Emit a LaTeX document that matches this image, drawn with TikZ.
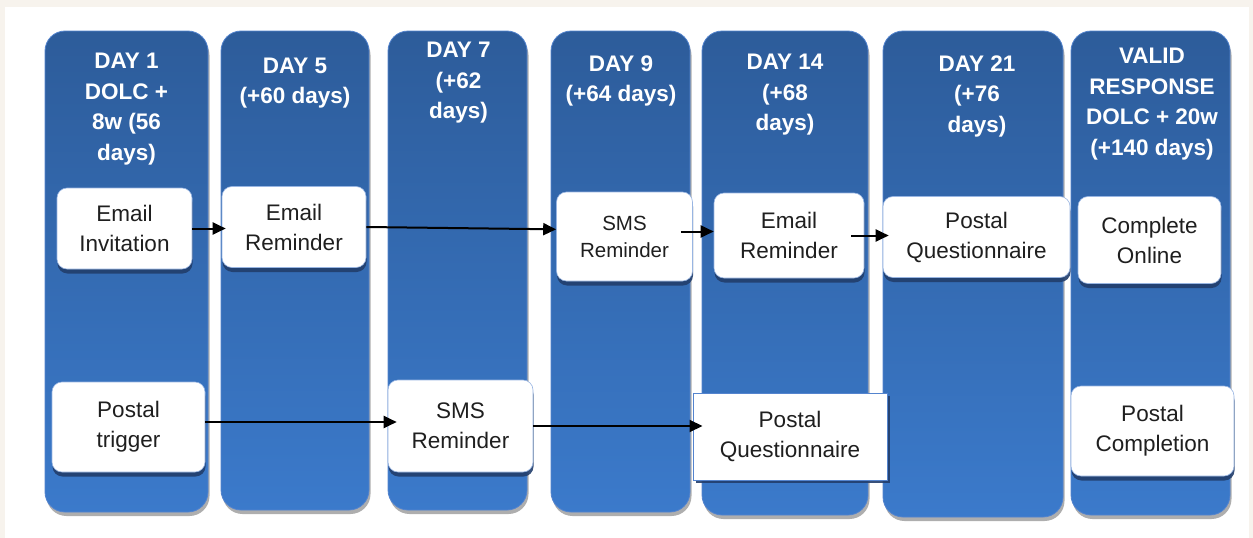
\documentclass[tikz,border=0pt]{standalone}
\usepackage{fontspec}
\setmainfont{Liberation Sans}
\usepackage{tikz}
\usetikzlibrary{arrows.meta}
\usetikzlibrary{shadows}
\definecolor{laneTop}{RGB}{45,92,154}
\definecolor{laneBot}{RGB}{59,122,203}
\definecolor{laneEdge}{RGB}{84,132,206}
\definecolor{boxShade}{RGB}{34,62,108}
\definecolor{paper}{RGB}{247,243,237}
\tikzset{lane/.style={top color=laneTop, bottom color=laneBot, draw=laneEdge, line width=0.8pt, rounded corners=20pt, inner sep=0, drop shadow={shadow xshift=1.5pt, shadow yshift=-4pt, fill=black!45, opacity=0.7}}}
\tikzset{day/.style={text=white, align=center, inner sep=0, font=\bfseries\fontsize{22.5}{30.5}\selectfont}}
\tikzset{note/.style={fill=white, draw=laneEdge!60, line width=0.6pt, inner sep=0, align=center, text=black!88, font=\fontsize{22.5}{30}\selectfont}}
\tikzset{contact/.style={note, rounded corners=10pt, drop shadow={shadow xshift=0.5pt, shadow yshift=-4.5pt, fill=boxShade, opacity=0.9}}}
\tikzset{flat contact/.style={note, draw=laneEdge, line width=1pt, drop shadow={shadow xshift=3pt, shadow yshift=-3pt, fill=boxShade, opacity=0.9}}}
\tikzset{link/.style={draw=black, line width=2pt, -{Triangle[length=13pt,width=12pt]}}}

\begin{document}
\begin{tikzpicture}[x=1pt, y=-1pt]
  \useasboundingbox (0,0) rectangle (1253,538);
  \fill[paper] (0,0) rectangle (1253,538);
  \fill[white] (5,7) rectangle (1249,538);

  % lanes
  \node[lane, minimum width=163pt, minimum height=481pt] at (126.5,271.5) (l1) {};
  \node[lane, minimum width=148pt, minimum height=479pt] at (295,270.5) (l2) {};
  \node[lane, minimum width=139pt, minimum height=479pt] at (457.5,270.5) (l3) {};
  \node[lane, minimum width=139pt, minimum height=481pt] at (620.5,271.5) (l4) {};
  \node[lane, minimum width=166pt, minimum height=484pt] at (785,273) (l5) {};
  \node[lane, minimum width=180pt, minimum height=486pt] at (973,274) (l6) {};
  \node[lane, minimum width=159pt, minimum height=484pt] at (1150.5,273) (l7) {};

  \node[day] at (126.5,109) (h1) {DAY 1\\DOLC +\\8w (56\\days)};
  \node[day] at (295,83) (h2) {DAY 5\\(+60 days)};
  \node[day] at (458.5,83) (h3) {DAY 7\\(+62\\days)};
  \node[day] at (621,81) (h4) {DAY 9\\(+64 days)};
  \node[day] at (785,95) (h5) {DAY 14\\(+68\\days)};
  \node[day] at (977,96) (h6) {DAY 21\\(+76\\days)};
  \node[day] at (1152,104) (h7) {VALID\\RESPONSE\\DOLC + 20w\\(+140 days)};

  % contacts
  \node[contact, minimum width=135pt, minimum height=81pt] at (124.5,228.5) (inv) {Email\\Invitation};
  \node[contact, minimum width=144pt, minimum height=81pt] at (294,227) (rem1) {Email\\Reminder};
  \node[contact, minimum width=136pt, minimum height=89pt, font=\fontsize{20.5}{27}\selectfont] at (624.5,236.5) (sms1) {SMS\\Reminder};
  \node[contact, minimum width=150pt, minimum height=85pt] at (789,235.5) (rem2) {Email\\Reminder};
  \node[contact, minimum width=187pt, minimum height=81pt] at (976.5,237) (pq1) {Postal\\Questionnaire};
  \node[contact, minimum width=143pt, minimum height=87pt] at (1149.5,240) (onl) {Complete\\Online};
  \node[contact, minimum width=153pt, minimum height=90pt] at (128.5,427) (trig) {Postal\\trigger};
  \node[contact, minimum width=145pt, minimum height=92pt] at (460.5,426) (sms2) {SMS\\Reminder};
  \node[flat contact, minimum width=194pt, minimum height=87pt] at (790,436.5) (pq2) {Postal\\Questionnaire};
  \node[contact, minimum width=163pt, minimum height=90pt] at (1152.5,431) (cmp) {Postal\\Completion};

  \draw[link, shorten >=-4pt] (inv.east) -- (inv.east -| rem1.west);
  \draw[link] (rem1.east) -- (sms1.174);
  \draw[link, shorten <=-12pt] ([yshift=5pt]sms1.east) -- ([yshift=5pt]sms1.east -| rem2.west);
  \draw[link, shorten <=-13pt, shorten >=-6pt] (rem2.east) -- (rem2.east -| pq1.west);

  \draw[link, shorten >=-9pt] ([yshift=5pt]trig.east) -- ([yshift=5pt]trig.east -| sms2.west);
  \draw[link, shorten >=-10pt] (sms2.east) -- (sms2.east -| pq2.west);
\end{tikzpicture}
\end{document}
